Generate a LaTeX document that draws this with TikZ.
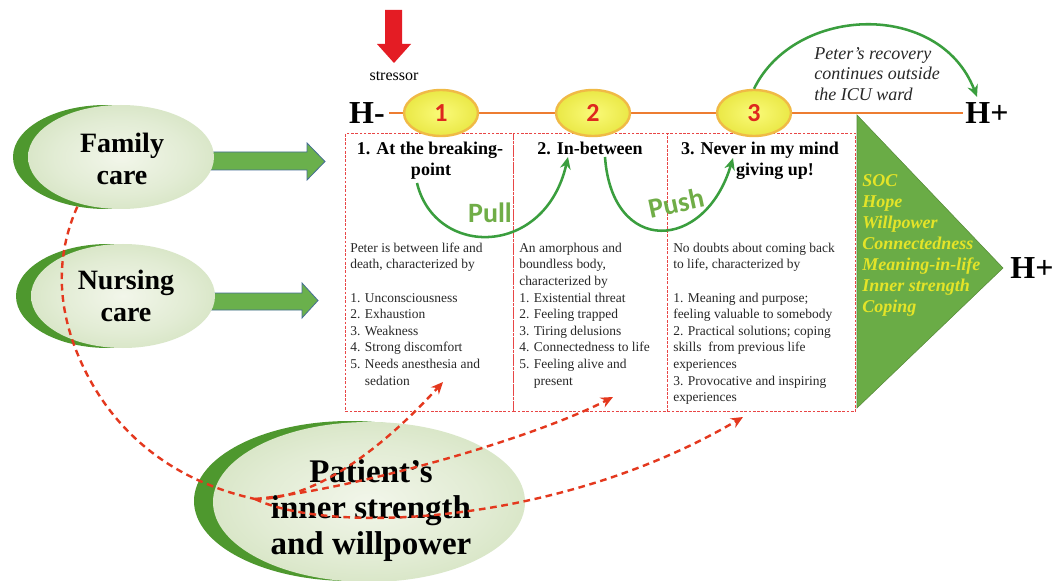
\documentclass[tikz,border=0pt]{standalone}
\usepackage{fontspec}
\setmainfont{Liberation Serif}
\newfontfamily\calib{Carlito}
\usetikzlibrary{arrows.meta,shapes.geometric}
\definecolor{darkg}{RGB}{78,152,46}
\definecolor{lightin}{RGB}{242,246,234}
\definecolor{lightout}{RGB}{188,212,160}
\definecolor{arrowg}{RGB}{106,176,76}
\definecolor{arrowedge}{RGB}{70,110,150}
\definecolor{orangeline}{RGB}{237,125,49}
\definecolor{reddash}{RGB}{228,56,30}
\definecolor{boxred}{RGB}{232,70,70}
\definecolor{arcg}{RGB}{58,158,62}
\definecolor{pullg}{RGB}{112,173,71}
\definecolor{trig}{RGB}{106,172,70}
\definecolor{triyel}{RGB}{228,228,40}
\definecolor{numred}{RGB}{222,40,30}
\definecolor{stressred}{RGB}{228,28,36}
\definecolor{ovalin}{RGB}{250,250,120}
\definecolor{ovalout}{RGB}{218,214,20}
\definecolor{ovaledge}{RGB}{240,186,70}
\definecolor{bodygray}{RGB}{40,40,40}
\pgfdeclareradialshading{greenoval}{\pgfpoint{0bp}{0bp}}{color(0bp)=(lightin); color(18bp)=(lightin!70!lightout); color(50bp)=(lightout)}
\pgfdeclareradialshading{yellowoval}{\pgfpoint{0bp}{0bp}}{color(0bp)=(ovalin); color(20bp)=(ovalin!60!ovalout); color(50bp)=(ovalout)}
\begin{document}
\begin{tikzpicture}[x=0.75pt,y=-0.75pt,
  darkoval/.style={ellipse, inner sep=0pt, fill=darkg},
  lightoval/.style={ellipse, inner sep=0pt, shading=greenoval},
  numoval/.style={ellipse, inner sep=0pt, minimum width=55.5pt, minimum height=34.5pt, shading=yellowoval, draw=ovaledge, line width=1.8pt},
  numtext/.style={font=\calib\fontsize{19.5}{20}\selectfont\bfseries, text=numred, inner sep=0pt},
  ovaltext/.style={font=\fontsize{21}{24}\selectfont\bfseries, align=center, inner sep=0pt},
  pattext/.style={font=\fontsize{24.75}{27}\selectfont\bfseries, align=center, inner sep=0pt},
  htext/.style={font=\fontsize{24}{26}\selectfont\bfseries},
  hd/.style={font=\fontsize{13.5}{15.75}\selectfont\bfseries, anchor=base, inner sep=0pt},
  body/.style={font=\fontsize{10.1}{12.45}\selectfont, text=bodygray, align=left, inner sep=0pt, anchor=north west},
  boxstyle/.style={draw=boxred, line width=0.75pt, dash pattern=on 2pt off 1.2pt, minimum height=208.5pt, anchor=north west, inner sep=0pt},
  blockarrow/.style={fill=arrowg, draw=arrowedge, line width=0.6pt},
  arcarrow/.style={draw=arcg, line width=1.9pt, -{Stealth[length=9pt,width=8pt]}},
  reddashed/.style={draw=reddash, line width=1.8pt, dash pattern=on 5pt off 3.5pt},
  pulltext/.style={font=\calib\fontsize{21}{22}\selectfont\bfseries, text=pullg, inner sep=0pt}
]
\fill[white] (0,0) rectangle (1061,581);
\useasboundingbox (0,0) rectangle (1061,581);

% block arrows
\path[blockarrow] (200,152) -- (307,152) -- (307,143) -- (325,161.5) -- (307,180) -- (307,170) -- (200,170) -- cycle;
\path[blockarrow] (200,293) -- (302,293) -- (302,283) -- (318,300.5) -- (302,318) -- (302,310) -- (200,310) -- cycle;

% left ovals
\node[darkoval, minimum width=139.5pt, minimum height=78pt] (famd) at (106,157) {};
\node[lightoval, minimum width=139.5pt, minimum height=78pt] (fam) at (121,157) {};
\node[darkoval, minimum width=138pt, minimum height=78pt] (nurd) at (108,296) {};
\node[lightoval, minimum width=138pt, minimum height=78pt] (nur) at (123,296) {};
\node[ovaltext, anchor=north] (famtxt) at (122,129.6) {\strut Family\\care};
\node[ovaltext, anchor=north] (nurtxt) at (126,266.6) {\strut Nursing\\care};

% boxes
\node[boxstyle, minimum width=126pt] (b1) at (345,133) {};
\node[boxstyle, minimum width=115.5pt] (b2) at (513,133) {};
\node[boxstyle, minimum width=141pt] (b3) at (667,133) {};

% triangle
\path[fill=trig, draw=trig!80!black, line width=0.4pt] (857,115) -- (1003,268) -- (857,408) -- cycle;

% H- and H+ and the line
\node[htext] (hminus) at (367,113) {H-};
\node[htext, inner sep=2pt] (hplus) at (987,113) {H+};
\node[htext] (hplus2) at (1032,268) {H+};
\draw[orangeline, line width=2.2pt] (hminus.east) -- (hplus.west);

% numbered ovals
\node[numoval] (e1) at (441,113) {};
\node[numoval] (e2) at (593,113) {};
\node[numoval] (e3) at (754,113) {};
\node[numtext] (n1) at (e1) {1};
\node[numtext] (n2) at (e2) {2};
\node[numtext] (n3) at (e3) {3};

% stressor
\fill[stressred] (385,10) -- (402,10) -- (402,44) -- (411,44) -- (394,63) -- (377,44) -- (385,44) -- cycle;
\node[font=\fontsize{12}{14}\selectfont, inner sep=0pt] (stress) at (394,76) {stressor};

% headings
\node[hd] (h1a) at (430,155) {1. At the breaking-};
\node[hd] (h1b) at (431,176) {point};
\node[hd] (h2) at (590,155) {2. In-between};
\node[hd] (h3a) at (760,155) {3. Never in my mind};
\node[hd] (h3b) at (775,176) {giving up!};

% body texts
\node[body] (t1) at (350,240.4) {\strut Peter is between life and\\death, characterized by\\\strut\\1. Unconsciousness\\2. Exhaustion\\3. Weakness\\4. Strong discomfort\\5. Needs anesthesia and\\\phantom{5. }sedation};
\node[body] (t2) at (519,240.4) {\strut An amorphous and\\boundless body,\\characterized by\\1. Existential threat\\2. Feeling trapped\\3. Tiring delusions\\4. Connectedness to life\\5. Feeling alive and\\\phantom{5. }present};
\node[body] (t3) at (673,240.4) {\strut No doubts about coming back\\to life, characterized by\\\strut\\1. Meaning and purpose;\\feeling valuable to somebody\\2. Practical solutions; coping\\skills\ \ from previous life\\experiences\\3. Provocative and inspiring\\experiences};

% triangle text
\node[font=\fontsize{13.5}{15.75}\selectfont\bfseries\itshape, text=triyel, align=left, inner sep=0pt, anchor=north west] (tritxt) at (862,171.3) {\strut SOC\\Hope\\Willpower\\Connectedness\\Meaning-in-life\\Inner strength\\Coping};

% recovery text
\node[font=\fontsize{13.5}{15.4}\selectfont\itshape, text=bodygray, align=left, inner sep=0pt, anchor=north west] (rectxt) at (814,44.6) {\strut Peter’s recovery\\continues outside\\the ICU ward};

% pull / push
\node[pulltext] (pull) at (490,213) {Pull};
\node[pulltext, rotate=12] (push) at (676,203) {Push};
\coordinate (pullS) at (417,183);
\coordinate (pullE) at (568,157);
\coordinate (pushS) at (605,157);
\coordinate (pushE) at (733,158);
\coordinate (recE) at (977,97);
\draw[arcarrow] (pullS) .. controls (435,258) and (545,258) .. (pullE);
\draw[arcarrow] (pushS) .. controls (612,256) and (705,252) .. (pushE);
\draw[arcarrow] (e3.north) .. controls (795,5) and (940,0) .. (recE);

% patient oval
\node[darkoval, minimum width=234pt, minimum height=120pt] (patd) at (350,501) {};
\node[lightoval, minimum width=234pt, minimum height=120pt] (pat) at (369,502) {};
\node[pattext, anchor=north] (pattxt) at (371,456.8) {\strut Patient’s\\inner strength\\and willpower};

% red dashed influence lines
\coordinate (J) at (255,499);
\coordinate (a1) at (443,382);
\coordinate (a2) at (613,397);
\coordinate (a3) at (743,417);
\draw[reddashed] (famd.240) .. controls (58,250) and (55,300) .. (78,355) .. controls (105,420) and (160,478) .. (J);
\draw[reddashed, -{Stealth[length=9pt,width=8pt]}] (J) .. controls (320,500) and (390,440) .. (a1);
\draw[reddashed, -{Stealth[length=9pt,width=8pt]}] (J) .. controls (350,490) and (530,440) .. (a2);
\draw[reddashed, -{Stealth[length=9pt,width=8pt]}] (J) .. controls (330,535) and (560,525) .. (a3);
\end{tikzpicture}
\end{document}
